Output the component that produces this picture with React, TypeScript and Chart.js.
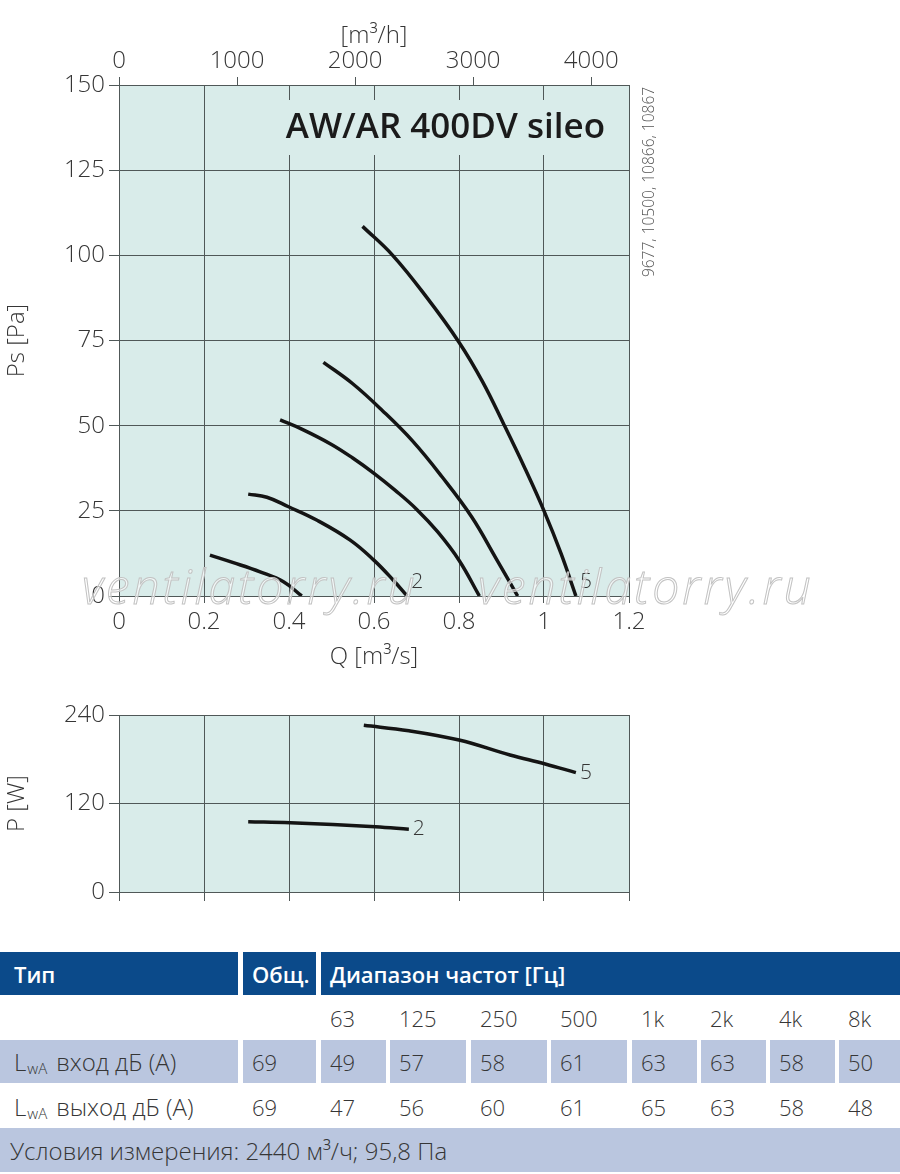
import { useEffect, useRef } from 'react';
import { Chart, registerables, type Plugin } from 'chart.js';

Chart.register(...registerables);

const FONT = '"Open Sans", "Noto Sans", sans-serif';
const INK = '#363636';
const GRID = '#505858';
const PLOT_BG = '#d9ecea';
const HEAD_BLUE = '#0b4a8a';
const ROW_BLUE = '#bac6df';

// fan curves, speed steps 1..5 : [Q m3/s, Ps Pa]
const ps1 = [[0.214, 12.0], [0.269, 9.8], [0.332, 7.1], [0.387, 4.2], [0.43, 0]];
const ps2 = [[0.304, 29.9], [0.348, 29.0], [0.399, 26.2], [0.465, 22.3], [0.544, 16.4], [0.599, 10.6], [0.645, 4.7], [0.678, 0]];
const ps3 = [[0.379, 51.7], [0.43, 49.0], [0.5, 44.5], [0.55, 40.5], [0.6, 36.0], [0.65, 31.0], [0.7, 25.5], [0.75, 18.8], [0.8, 10.5], [0.848, 0]];
const ps4 = [[0.481, 68.6], [0.55, 62.3], [0.62, 54.4], [0.69, 45.6], [0.76, 35.0], [0.83, 23.2], [0.885, 11.5], [0.938, 0]];
const ps5 = [[0.573, 108.5], [0.644, 100.0], [0.725, 87.5], [0.8, 74.5], [0.855, 63.0], [0.905, 50.5], [0.955, 37.5], [1.0, 25.0], [1.04, 12.5], [1.075, 0]];

// power input, steps 2 and 5 : [Q m3/s, P W]
const pw2 = [[0.304, 95.3], [0.403, 94.0], [0.603, 88.5], [0.682, 85.0]];
const pw5 = [[0.576, 226.0], [0.682, 218.7], [0.8, 206.0], [0.92, 185.8], [1.003, 173.6], [1.075, 161.8]];

const qTicks = ['0', '0.2', '0.4', '0.6', '0.8', '1', '1.2'];
const psTicks = ['0', '25', '50', '75', '100', '125', '150'];
const flowTicks = ['0', '1000', '2000', '3000', '4000'];
const pTicks = ['0', '120', '240'];

// sound table
const bands = ['63', '125', '250', '500', '1k', '2k', '4k', '8k'];
const inletTotal = 69;
const inletBands = [49, 57, 58, 61, 63, 63, 58, 50];
const outletTotal = 69;
const outletBands = [47, 56, 60, 61, 65, 63, 58, 48];

const tickFont = { family: FONT, size: 24, weight: '300' as const };
const pts = (a: number[][]) => a.map(([x, y]) => ({ x, y }));

const curve = (data: number[][], tag = '') => ({
  data: pts(data),
  tag,
  xAxisID: 'x',
  yAxisID: 'y',
  borderColor: '#141414',
  borderWidth: 3.5,
  borderCapStyle: 'butt' as const,
  tension: 0.4,
  pointRadius: 0,
  fill: false,
});

const plotBg: Plugin = {
  id: 'plotBg',
  beforeDraw(chart) {
    const { ctx, chartArea: a } = chart;
    ctx.save();
    ctx.fillStyle = PLOT_BG;
    ctx.fillRect(a.left, a.top, a.right - a.left, a.bottom - a.top);
    ctx.restore();
  },
};

// small step numbers next to the end of a curve
const curveTags: Plugin = {
  id: 'curveTags',
  afterDatasetsDraw(chart, _args, opts: any) {
    const { ctx } = chart;
    ctx.save();
    ctx.font = `300 21px ${FONT}`;
    ctx.fillStyle = INK;
    ctx.textAlign = 'center';
    ctx.textBaseline = 'middle';
    chart.data.datasets.forEach((ds: any, i) => {
      if (!ds.tag) return;
      const last = chart.getDatasetMeta(i).data.at(-1);
      if (last) ctx.fillText(ds.tag, last.x + 10, last.y + (opts.dy ?? 0));
    });
    ctx.restore();
  },
};

const fanDecor: Plugin = {
  id: 'fanDecor',
  beforeDatasetsDraw(chart) {
    const { ctx, chartArea: a } = chart;
    ctx.save();
    ctx.font = `600 35px ${FONT}`;
    const text = 'AW/AR 400DV sileo';
    const w = ctx.measureText(text).width;
    const right = a.right - 24;
    ctx.fillStyle = PLOT_BG;
    ctx.fillRect(right - w - 9, a.top + 15, w + 18, 55);
    ctx.fillStyle = '#1b1b1b';
    ctx.textAlign = 'right';
    ctx.textBaseline = 'alphabetic';
    ctx.fillText(text, right, a.top + 53);
    ctx.restore();
  },
  afterDraw(chart) {
    const { ctx, chartArea: a } = chart;
    ctx.save();
    // drawing numbers, vertical at the right edge
    ctx.translate(a.right + 21, a.top + 97);
    ctx.rotate(-Math.PI / 2);
    ctx.font = `300 15.5px ${FONT}`;
    ctx.fillStyle = '#555';
    ctx.textAlign = 'center';
    ctx.textBaseline = 'middle';
    ctx.fillText('9677, 10500, 10866, 10867', 0, 0);
    ctx.restore();

    // watermark
    ctx.save();
    ctx.font = `italic 300 48px ${FONT}`;
    (ctx as any).letterSpacing = '3px';
    ctx.textBaseline = 'alphabetic';
    ctx.lineWidth = 1;
    ctx.strokeStyle = '#c2c2c2';
    ctx.fillStyle = 'rgba(255,255,255,0.6)';
    for (const x of [82, 478]) {
      ctx.fillText('ventilatorry.ru', x, a.bottom + 8);
      ctx.strokeText('ventilatorry.ru', x, a.bottom + 8);
    }
    ctx.restore();
  },
};

function FanChart() {
  const canvasRef = useRef<HTMLCanvasElement>(null);

  useEffect(() => {
    if (!canvasRef.current) return;
    const chart = new Chart(canvasRef.current, {
      type: 'line',
      data: {
        datasets: [curve(ps1), curve(ps2, '2'), curve(ps3), curve(ps4), curve(ps5, '5')] as any,
      },
      options: {
        responsive: false,
        animation: false,
        events: [],
        layout: { padding: { left: 0, right: 271, top: 0, bottom: 0 } },
        plugins: { legend: { display: false }, tooltip: { enabled: false }, curveTags: { dy: -14 } } as any,
        scales: {
          x: {
            type: 'linear',
            position: 'bottom',
            min: 0,
            max: 1.2,
            afterFit: (s) => { s.height = 84; },
            ticks: { stepSize: 0.2, color: INK, font: tickFont, padding: 5, maxRotation: 0, callback: (_v, i) => qTicks[i] ?? '' },
            grid: { color: GRID, tickLength: 7 },
            border: { color: GRID },
            title: { display: true, text: 'Q [m³/s]', color: INK, font: tickFont, padding: { top: 0, bottom: 8 } },
          },
          // airflow in thousands of m3/h (1 m3/s = 3.6 thousand m3/h)
          x2: {
            type: 'linear',
            position: 'top',
            min: 0,
            max: 1.2 * 3.6,
            afterFit: (s) => { s.height = 85; },
            ticks: { stepSize: 1, includeBounds: false, color: INK, font: tickFont, padding: 1, maxRotation: 0, callback: (_v, i) => flowTicks[i] ?? '' },
            grid: { drawOnChartArea: false, color: GRID, tickLength: 8 },
            border: { display: false },
            title: { display: true, text: '[m³/h]', color: INK, font: tickFont, padding: { top: 22, bottom: 0 } },
          },
          y: {
            type: 'linear',
            min: 0,
            max: 150,
            afterFit: (s) => { s.width = 119; },
            ticks: { stepSize: 25, color: INK, font: tickFont, padding: 4, callback: (_v, i) => psTicks[i] ?? '' },
            grid: { color: GRID, tickLength: 10 },
            border: { color: GRID },
            title: { display: true, text: 'Ps [Pa]', color: INK, font: tickFont, padding: { top: 3, bottom: 0 } },
          },
        },
      },
      plugins: [plotBg, fanDecor, curveTags],
    });
    return () => chart.destroy();
  }, []);

  return <canvas ref={canvasRef} width={900} height={680} style={{ display: 'block' }} />;
}

function PowerChart() {
  const canvasRef = useRef<HTMLCanvasElement>(null);

  useEffect(() => {
    if (!canvasRef.current) return;
    const chart = new Chart(canvasRef.current, {
      type: 'line',
      data: { datasets: [curve(pw2, '2'), curve(pw5, '5')] as any },
      options: {
        responsive: false,
        animation: false,
        events: [],
        layout: { padding: { left: 0, right: 271, top: 35, bottom: 0 } },
        plugins: { legend: { display: false }, tooltip: { enabled: false }, curveTags: { dy: 0 } } as any,
        scales: {
          x: {
            type: 'linear',
            min: 0,
            max: 1.2,
            afterFit: (s) => { s.height = 48; },
            ticks: { stepSize: 0.2, display: false },
            grid: { color: GRID, tickLength: 9 },
            border: { color: GRID },
          },
          y: {
            type: 'linear',
            min: 0,
            max: 240,
            afterFit: (s) => { s.width = 119; },
            ticks: { stepSize: 120, color: INK, font: tickFont, padding: 4, callback: (_v, i) => pTicks[i] ?? '' },
            grid: { color: GRID, tickLength: 10 },
            border: { color: GRID },
            title: { display: true, text: 'P [W]', color: INK, font: tickFont, padding: { top: 3, bottom: 0 } },
          },
        },
      },
      plugins: [plotBg, curveTags],
    });
    return () => chart.destroy();
  }, []);

  return <canvas ref={canvasRef} width={900} height={260} style={{ display: 'block' }} />;
}

// column boxes of the sound table, in px
const COLS = [
  [0, 238], [243, 73], [321, 65], [390, 76], [471, 76], [551, 76], [632, 65], [701, 65], [770, 65], [839, 61],
];

function Cell({ left, width, top, height, bg, pad = 9, size = 22, children, head = false }: any) {
  return (
    <div
      style={{
        position: 'absolute', left, width, top, height, background: bg, boxSizing: 'border-box',
        paddingLeft: pad, display: 'flex', alignItems: 'center', whiteSpace: 'nowrap',
        color: head ? '#fff' : INK, fontWeight: head ? 600 : 300, fontSize: size,
      }}
    >
      {children}
    </div>
  );
}

const Lwa = ({ label }: { label: string }) => (
  <span>L<span style={{ fontSize: 15, verticalAlign: -3, marginLeft: 1, marginRight: 9 }}>wA</span>{label}</span>
);

function SoundTable() {
  const rowLine = (top: number, total: number, vals: number[], bg: string | undefined, label: string) => (
    <>
      <Cell left={COLS[0][0]} width={COLS[0][1]} top={top} height={43} bg={bg} pad={14} size={24}><Lwa label={label} /></Cell>
      <Cell left={COLS[1][0]} width={COLS[1][1]} top={top} height={43} bg={bg}>{total}</Cell>
      {vals.map((v, i) => (
        <Cell key={i} left={COLS[i + 2][0]} width={COLS[i + 2][1]} top={top} height={43} bg={bg}>{v}</Cell>
      ))}
    </>
  );

  return (
    <div style={{ position: 'absolute', left: 0, top: 952, width: 900, height: 222 }}>
      <Cell left={0} width={238} top={0} height={43} bg={HEAD_BLUE} pad={14} head>Тип</Cell>
      <Cell left={243} width={73} top={0} height={43} bg={HEAD_BLUE} head>Общ.</Cell>
      <Cell left={321} width={579} top={0} height={43} bg={HEAD_BLUE} head>Диапазон частот [Гц]</Cell>
      {bands.map((b, i) => (
        <Cell key={b} left={COLS[i + 2][0]} width={COLS[i + 2][1]} top={45} height={42}>{b}</Cell>
      ))}
      {rowLine(88, inletTotal, inletBands, ROW_BLUE, 'вход дБ (А)')}
      {rowLine(133, outletTotal, outletBands, undefined, 'выход дБ (А)')}
      <Cell left={0} width={900} top={176} height={44} bg={ROW_BLUE} pad={10} size={24}>Условия измерения: 2440 м³/ч; 95,8 Па</Cell>
    </div>
  );
}

export default function App() {
  return (
    <div style={{ position: 'relative', width: 900, height: 1174, fontFamily: FONT, color: INK, background: '#fff' }}>
      <style>{'body{margin:0}'}</style>
      <FanChart />
      <PowerChart />
      <SoundTable />
    </div>
  );
}
